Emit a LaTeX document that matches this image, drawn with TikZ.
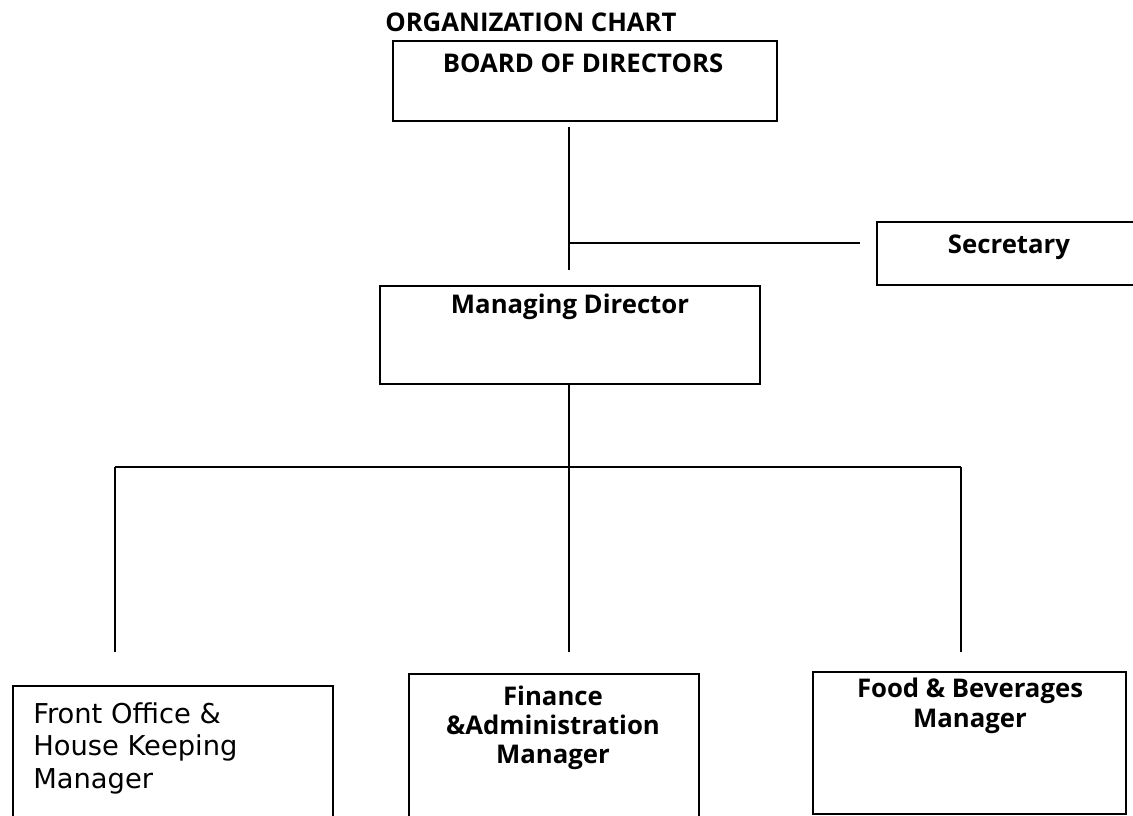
\documentclass[tikz,border=0pt]{standalone}
\usepackage{fontspec}
\setmainfont{Open Sans}
\newfontfamily\comicfont{DejaVu Sans}
\usetikzlibrary{calc}
\begin{document}
\begin{tikzpicture}[x=0.75pt,y=-0.75pt,
  box/.style={draw=black, line width=1.6pt, rectangle, anchor=north west, inner sep=0pt},
  conn/.style={draw=black, line width=1.4pt},
  btxt/.style={font=\fontsize{19.3}{22}\selectfont\bfseries, inner sep=0pt, anchor=base},
  ctxt/.style={font=\comicfont\fontsize{20.5}{22}\selectfont, inner sep=0pt, anchor=base west}]
\useasboundingbox[fill=white] (0,0) rectangle (1133,815);

% title
\node[btxt, anchor=base west] (title) at (385,31) {ORGANIZATION CHART};

% boxes
\node[box, minimum width=384*0.75pt, minimum height=80*0.75pt] (bod) at (392,40) {};
\node[btxt] (bodt) at (583,72) {BOARD OF DIRECTORS};

\node[box, minimum width=260*0.75pt, minimum height=63*0.75pt] (sec) at (876,221) {};
\node[btxt] (sect) at (1009,253) {Secretary};

\node[box, minimum width=380*0.75pt, minimum height=98*0.75pt] (md) at (379,285) {};
\node[btxt] (mdt) at (570,313) {Managing Director};

\node[box, minimum width=320*0.75pt, minimum height=140*0.75pt] (fo) at (12,685) {};
\node[ctxt] (fot1) at (33,723) {Front Office \&};
\node[ctxt] (fot2) at (33,755) {House Keeping};
\node[ctxt] (fot3) at (33,788) {Manager};

\node[box, minimum width=290*0.75pt, minimum height=150*0.75pt] (fin) at (408,673) {};
\node[btxt] (fint1) at (553,705) {Finance};
\node[btxt] (fint2) at (553,734) {\&Administration};
\node[btxt] (fint3) at (553,763) {Manager};

\node[box, minimum width=313*0.75pt, minimum height=142*0.75pt] (fb) at (812,671) {};
\node[btxt] (fbt1) at (970,697) {Food \& Beverages};
\node[btxt] (fbt2) at (970,727) {Manager};

% connector points
\coordinate (a1) at (569,127);
\coordinate (a2) at (569,270);
\coordinate (a3) at (569,243);
\coordinate (a4) at (860,243);
\coordinate (b1) at (569,383);
\coordinate (b2) at (569,467);
\coordinate (hl) at (115,467);
\coordinate (hr) at (961,467);
\coordinate (dl) at (115,652);
\coordinate (dm) at (569,652);
\coordinate (dr) at (961,652);

\draw[conn] (a1) -- (a2);
\draw[conn] (a3) -- (a4);
\draw[conn] (b1) -- (b2);
\draw[conn] (hl) -- (hr);
\draw[conn] (hl) -- (dl);
\draw[conn] (b2) -- (dm);
\draw[conn] (hr) -- (dr);
\end{tikzpicture}
\end{document}
